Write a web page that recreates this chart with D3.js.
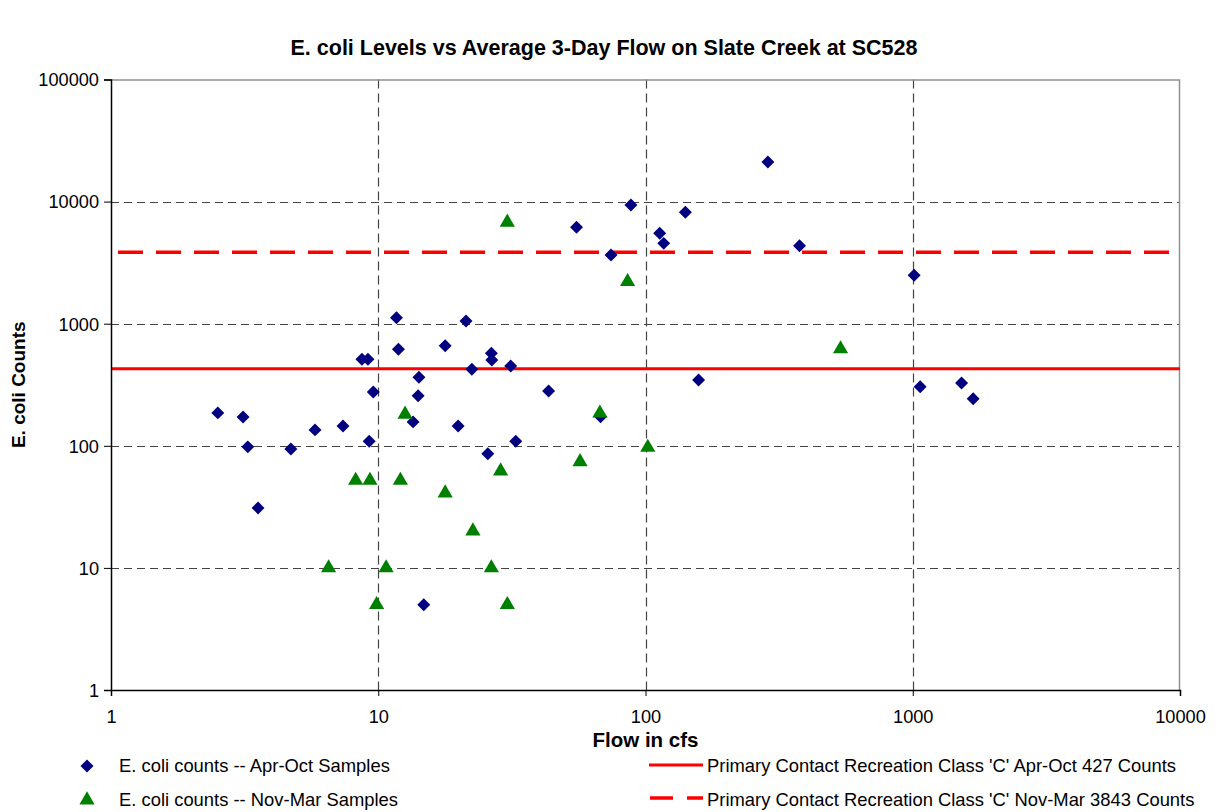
<!DOCTYPE html>
<html>
<head>
<meta charset="utf-8">
<script src="https://cdn.jsdelivr.net/npm/d3@7/dist/d3.min.js"></script>
<style>
  html, body { margin: 0; padding: 0; background: #fff; }
  svg { display: block; font-family: "Liberation Sans", Arial, sans-serif; }
</style>
</head>
<body>
<svg id="chart" width="1216" height="812"></svg>
<script>
// Apr-Oct samples: [average 3-day flow (cfs), E. coli counts]
const aprOctSamples = [
  [2.51, 186], [3.12, 172], [3.25, 98], [3.55, 31], [4.71, 94], [5.8, 135],
  [7.38, 145], [8.69, 511], [9.15, 511], [9.58, 276], [9.25, 109], [11.7, 1120],
  [11.9, 617], [14.2, 364], [14.1, 257], [13.5, 157], [14.8, 5], [17.8, 661],
  [19.9, 145], [21.3, 1052], [22.4, 423], [26.5, 572], [26.6, 504], [31.3, 450],
  [43.4, 281], [32.7, 109], [25.7, 86], [67.9, 173], [55.2, 6160], [88.2, 9380],
  [74.3, 3650], [113, 5500], [117, 4550], [141, 8170], [287, 21100], [377, 4350],
  [158, 346], [1012, 2490], [1066, 305], [1523, 327], [1683, 243]
];

// Nov-Mar samples: [average 3-day flow (cfs), E. coli counts]
const novMarSamples = [
  [6.52, 10], [8.23, 52], [9.31, 52], [9.86, 5], [10.7, 10], [12.6, 181],
  [12.1, 52], [17.8, 41], [22.6, 20], [26.5, 10], [30.4, 5], [28.7, 62],
  [56.9, 74], [102, 97], [67.5, 185], [85.7, 2210], [30.4, 6760], [537, 621]
];

// Primary contact recreation standards
const standardAprOct = 427;
const standardNovMar = 3843;

const xTicks = [1, 10, 100, 1000, 10000];
const yTicks = [1, 10, 100, 1000, 10000, 100000];

const titleText = "E. coli Levels vs Average 3-Day Flow on Slate Creek at SC528";
const xTitle = "Flow in cfs";
const yTitle = "E. coli Counts";
const legendLabels = [
  "E. coli counts -- Apr-Oct Samples",
  "E. coli counts -- Nov-Mar Samples",
  "Primary Contact Recreation Class 'C' Apr-Oct 427 Counts",
  "Primary Contact Recreation Class 'C' Nov-Mar 3843 Counts"
];

const svg = d3.select("#chart");
const plot = { left: 111, right: 1180, top: 79.5, bottom: 690 };

const x = d3.scaleLog().domain([1, 10000]).range([plot.left, plot.right]);
const y = d3.scaleLog().domain([1, 100000]).range([plot.bottom, plot.top]);

const navy = "#000080";
const green = "#008000";
const red = "#ff0000";

// Title
svg.append("text")
  .attr("x", 604).attr("y", 55)
  .attr("text-anchor", "middle")
  .attr("font-size", 21.5).attr("font-weight", "bold")
  .text(titleText);

// Gridlines
const grid = svg.append("g");
grid.selectAll("line.hg")
  .data(yTicks.filter(d => d > 1 && d < 100000))
  .join("line")
  .attr("x1", plot.left).attr("x2", plot.right)
  .attr("y1", d => Math.round(y(d)) + 0.5).attr("y2", d => Math.round(y(d)) + 0.5)
  .attr("stroke", "#444").attr("stroke-width", 1.2).attr("stroke-dasharray", "8,5");
grid.selectAll("line.vg")
  .data(xTicks.filter(d => d > 1 && d < 10000))
  .join("line")
  .attr("y1", plot.top).attr("y2", plot.bottom)
  .attr("x1", d => Math.round(x(d)) + 0.5).attr("x2", d => Math.round(x(d)) + 0.5)
  .attr("stroke", "#444").attr("stroke-width", 1.2).attr("stroke-dasharray", "9,5");

// Plot frame (top and right)
svg.append("path")
  .attr("d", `M${plot.left},${plot.top + 0.5}H${plot.right - 0.5}V${plot.bottom}`)
  .attr("fill", "none").attr("stroke", "#909090").attr("stroke-width", 1.5);

// Standard lines
svg.append("line")
  .attr("x1", plot.left).attr("x2", plot.right)
  .attr("y1", y(standardAprOct)).attr("y2", y(standardAprOct))
  .attr("stroke", red).attr("stroke-width", 3);
svg.append("line")
  .attr("x1", plot.left + 7).attr("x2", plot.right)
  .attr("y1", y(standardNovMar)).attr("y2", y(standardNovMar))
  .attr("stroke", red).attr("stroke-width", 3.5).attr("stroke-dasharray", "25,13");

// Axes
const yAxis = d3.axisLeft(y).tickValues(yTicks).tickFormat(d3.format("d"))
  .tickSize(7).tickPadding(5);
const xAxis = d3.axisBottom(x).tickValues(xTicks).tickFormat(d3.format("d"))
  .tickSize(6).tickPadding(14);

const gy = svg.append("g").attr("transform", `translate(${plot.left},0)`).call(yAxis);
const gx = svg.append("g").attr("transform", `translate(0,${plot.bottom})`).call(xAxis);
[gx, gy].forEach(g => {
  g.select(".domain").attr("stroke", "#000").attr("stroke-width", 1.5);
  g.selectAll(".tick line").attr("stroke", "#000");
  g.selectAll(".tick text").attr("font-size", 18.2).attr("fill", "#000")
    .attr("font-family", "Liberation Sans, Arial, sans-serif");
});
gy.selectAll(".tick text").attr("dy", "0.35em");

// Axis titles
svg.append("text")
  .attr("x", (plot.left + plot.right) / 2).attr("y", 747)
  .attr("text-anchor", "middle")
  .attr("font-size", 20.5).attr("font-weight", "bold")
  .text(xTitle);
svg.append("text")
  .attr("transform", `translate(25,${(plot.top + plot.bottom) / 2}) rotate(-90)`)
  .attr("text-anchor", "middle")
  .attr("font-size", 19).attr("font-weight", "bold")
  .text(yTitle);

// Markers
const diamond = d3.symbol().type(d3.symbolSquare).size(84);
const triangle = d3.symbol().type(d3.symbolTriangle).size(100);

svg.append("g").selectAll("path")
  .data(aprOctSamples)
  .join("path")
  .attr("d", diamond)
  .attr("transform", d => `translate(${x(d[0])},${y(d[1])}) rotate(45)`)
  .attr("fill", navy);

svg.append("g").selectAll("path")
  .data(novMarSamples)
  .join("path")
  .attr("d", triangle)
  .attr("transform", d => `translate(${x(d[0])},${y(d[1])})`)
  .attr("fill", green);

// Legend
const leg = svg.append("g").attr("font-size", 18.4);
leg.append("path").attr("d", diamond)
  .attr("transform", "translate(87,766) rotate(45)").attr("fill", navy);
leg.append("path").attr("d", triangle)
  .attr("transform", "translate(87,800)").attr("fill", green);
leg.append("text").attr("x", 119).attr("y", 772).text(legendLabels[0]);
leg.append("text").attr("x", 119).attr("y", 806).text(legendLabels[1]);

leg.append("line").attr("x1", 649).attr("x2", 703).attr("y1", 765).attr("y2", 765)
  .attr("stroke", red).attr("stroke-width", 3);
leg.append("line").attr("x1", 650).attr("x2", 703).attr("y1", 798).attr("y2", 798)
  .attr("stroke", red).attr("stroke-width", 3.5).attr("stroke-dasharray", "23,14");
leg.append("text").attr("x", 707).attr("y", 772).text(legendLabels[2]);
leg.append("text").attr("x", 707).attr("y", 806).text(legendLabels[3]);
</script>
</body>
</html>
